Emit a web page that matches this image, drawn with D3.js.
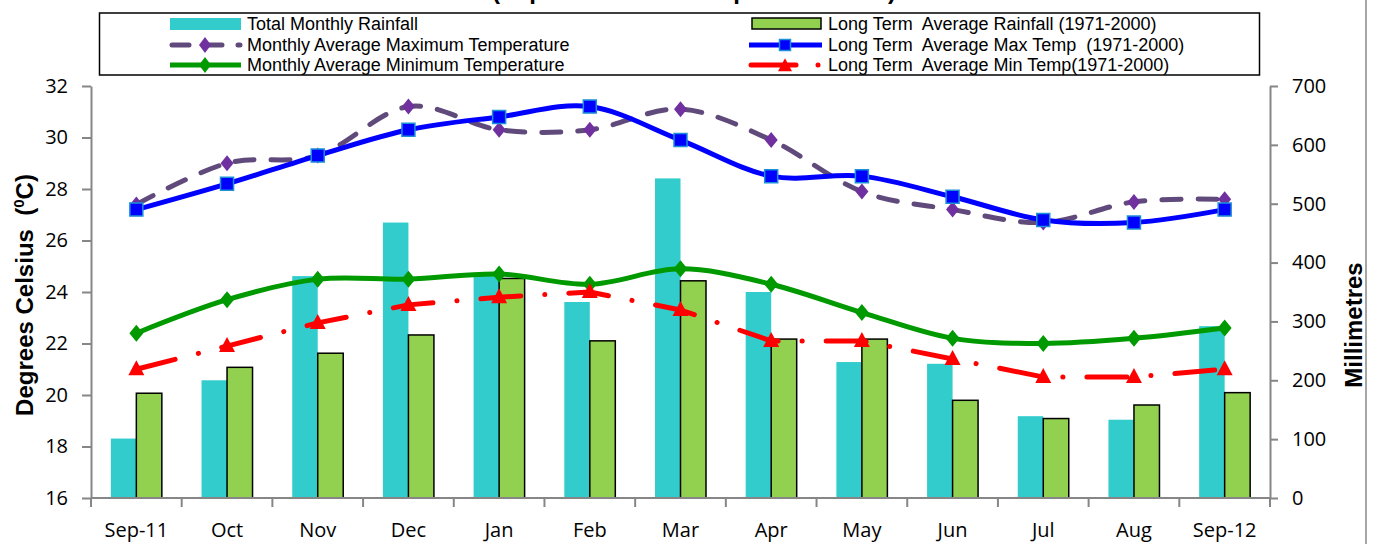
<!DOCTYPE html>
<html>
<head>
<meta charset="utf-8">
<script src="https://cdn.jsdelivr.net/npm/d3@7"></script>
<style>
  body { margin: 0; background: #fff; }
  svg { display: block; }
  text { white-space: pre; }
</style>
</head>
<body>
<svg id="chart" width="1374" height="544"></svg>
<script>
// Monthly climate record, September 2011 to September 2012
const months = ["Sep-11", "Oct", "Nov", "Dec", "Jan", "Feb", "Mar", "Apr", "May", "Jun", "Jul", "Aug", "Sep-12"];
const totalRainfall = [101, 200, 377, 468, 380, 333, 543, 350, 231, 228, 139, 133, 292];
const ltRainfall = [178, 222, 246, 277, 373, 267, 369, 270, 270, 166, 135, 158, 179];
const maxTemp = [27.4, 29.0, 29.3, 31.2, 30.3, 30.3, 31.1, 29.9, 27.9, 27.2, 26.7, 27.5, 27.6];
const ltMaxTemp = [27.2, 28.2, 29.3, 30.3, 30.8, 31.2, 29.9, 28.5, 28.5, 27.7, 26.8, 26.7, 27.2];
const minTemp = [22.4, 23.7, 24.5, 24.5, 24.7, 24.3, 24.9, 24.3, 23.2, 22.2, 22.0, 22.2, 22.6];
const ltMinTemp = [21.0, 21.9, 22.8, 23.5, 23.8, 24.0, 23.3, 22.1, 22.1, 21.4, 20.7, 20.7, 21.0];
const tempTicks = [16, 18, 20, 22, 24, 26, 28, 30, 32];
const rainTicks = [0, 100, 200, 300, 400, 500, 600, 700];

const svg = d3.select("#chart");
const plot = { left: 91, right: 1270, top: 86, bottom: 498 };
const axisColor = "#868686";
const tickFont = "'Open Sans', sans-serif";

const x = d3.scaleBand().domain(months).range([plot.left, plot.right]);
const cx = m => x(m) + x.bandwidth() / 2;
const xBar = d3.scaleBand().domain(["total", "lt"]);
const yT = d3.scaleLinear().domain([16, 32]).range([plot.bottom, plot.top]);
const yR = d3.scaleLinear().domain([0, 700]).range([plot.bottom, plot.top]);

// Chart area border on the right
svg.append("line").attr("x1", 1366).attr("x2", 1366).attr("y1", 0).attr("y2", 544)
  .attr("stroke", "#a6a6a6").attr("stroke-width", 2);

// Title (last line)
svg.append("text").attr("x", 694).attr("y", -1).attr("text-anchor", "middle")
  .attr("font-family", "'Liberation Sans', Arial, sans-serif").attr("font-weight", "bold")
  .attr("font-size", 24).text("(September 2011 - September 2012)");

// Bars
const bars = svg.append("g");
months.forEach((m, i) => {
  xBar.range([cx(m) - 25.5, cx(m) + 25.5]);
  bars.append("rect")
    .attr("x", xBar("total")).attr("width", xBar.bandwidth())
    .attr("y", yR(totalRainfall[i])).attr("height", yR(0) - yR(totalRainfall[i]))
    .attr("fill", "#33CCCC");
  bars.append("rect")
    .attr("x", xBar("lt")).attr("width", xBar.bandwidth())
    .attr("y", yR(ltRainfall[i])).attr("height", yR(0) - yR(ltRainfall[i]))
    .attr("fill", "#92D050").attr("stroke", "#000").attr("stroke-width", 1.5);
});

// Axes
function styleAxis(g) {
  g.selectAll(".domain").attr("stroke", axisColor).attr("stroke-width", 2);
  g.selectAll(".tick line").attr("stroke", axisColor).attr("stroke-width", 2);
  g.selectAll("text").attr("font-family", tickFont).attr("font-size", 20).attr("fill", "#000");
}
svg.append("g").attr("transform", `translate(${plot.left},0)`)
  .call(d3.axisLeft(yT).tickValues(tempTicks).tickSize(9).tickSizeOuter(0).tickPadding(14))
  .call(styleAxis);
svg.append("g").attr("transform", `translate(${plot.right},0)`)
  .call(d3.axisRight(yR).tickValues(rainTicks).tickSize(8).tickSizeOuter(0).tickPadding(14))
  .call(styleAxis);
const xAxis = svg.append("g").attr("transform", `translate(0,${plot.bottom})`)
  .call(d3.axisBottom(x).tickSize(0).tickPadding(25))
  .call(styleAxis);
xAxis.select(".domain").remove();
svg.append("line").attr("x1", plot.left).attr("x2", plot.right)
  .attr("y1", plot.bottom).attr("y2", plot.bottom)
  .attr("stroke", axisColor).attr("stroke-width", 2);
const bounds = months.map(m => x(m)).concat([plot.right]);
svg.append("g").selectAll("line").data(bounds).join("line")
  .attr("x1", d => d).attr("x2", d => d)
  .attr("y1", plot.bottom).attr("y2", plot.bottom + 9)
  .attr("stroke", axisColor).attr("stroke-width", 2);

// Axis titles
svg.append("text").attr("transform", "translate(33,295) rotate(-90)")
  .attr("text-anchor", "middle").attr("font-family", "'Liberation Sans', Arial, sans-serif")
  .attr("font-weight", "bold").attr("font-size", 24)
  .call(t => {
    t.append("tspan").text("Degrees Celsius  (");
    t.append("tspan").attr("font-size", 15).attr("dy", -9).text("0");
    t.append("tspan").attr("dy", 9).text("C)");
  });
svg.append("text").attr("transform", "translate(1362,325) rotate(-90)")
  .attr("text-anchor", "middle").attr("font-family", "'Liberation Sans', Arial, sans-serif")
  .attr("font-weight", "bold").attr("font-size", 24).text("Millimetres");

// Marker shapes
const diamond = (w, h) => `M0,${-h}L${w},0L0,${h}L${-w},0Z`;
const triangle = (w, h) => `M0,${-h * 0.6}L${w},${h * 0.4}L${-w},${h * 0.4}Z`;
const square = s => `M${-s},${-s}H${s}V${s}H${-s}Z`;

const smooth = d3.line().x(d => d[0]).y(d => d[1]).curve(d3.curveCardinal.tension(0));
const straight = d3.line().x(d => d[0]).y(d => d[1]);

function series(values, gen, stroke, dash, shape, fill, mStroke, mWidth) {
  const pts = values.map((v, i) => [cx(months[i]), yT(v)]);
  const g = svg.append("g");
  g.append("path").attr("d", gen(pts)).attr("fill", "none")
    .attr("stroke", stroke).attr("stroke-width", 5)
    .attr("stroke-linecap", dash ? "round" : "butt").attr("stroke-linejoin", "round")
    .attr("stroke-dasharray", dash);
  g.selectAll("path.m").data(pts).join("path").attr("class", "m")
    .attr("transform", d => `translate(${d[0]},${d[1]})`)
    .attr("d", shape).attr("fill", fill)
    .attr("stroke", mStroke || "none").attr("stroke-width", mWidth || 0);
}

series(maxTemp, smooth, "#604A7B", "19 17", diamond(6.5, 8), "#7030A0");
series(ltMaxTemp, smooth, "#0000FF", null, square(6.5), "#0000FF", "#1E90D8", 1.5);
series(minTemp, smooth, "#009900", null, diamond(7, 8.5), "#009900");
series(ltMinTemp, straight, "#FF0000", "40 24 0.1 24", triangle(8, 15), "#FF0000");

// Legend
const lg = svg.append("g").attr("font-family", "'Liberation Sans', Arial, sans-serif").attr("font-size", 18);
lg.append("rect").attr("x", 99.5).attr("y", 13).attr("width", 1160).attr("height", 62)
  .attr("fill", "#fff").attr("stroke", "#000").attr("stroke-width", 1.5);
const rows = [24, 45, 65];
const lt = (xp, y, s) => lg.append("text").attr("x", xp).attr("y", y + 6).text(s);

lg.append("rect").attr("x", 170).attr("y", 18).attr("width", 71).attr("height", 12).attr("fill", "#33CCCC");
lt(247, rows[0], "Total Monthly Rainfall");
lg.append("path").attr("d", `M172,${rows[1]}H240`).attr("stroke", "#604A7B").attr("stroke-width", 5)
  .attr("stroke-linecap", "round").attr("stroke-dasharray", "17 16");
lg.append("path").attr("transform", `translate(205,${rows[1]})`).attr("d", diamond(6, 8)).attr("fill", "#7030A0");
lt(247, rows[1], "Monthly Average Maximum Temperature");
lg.append("path").attr("d", `M170,${rows[2]}H241`).attr("stroke", "#009900").attr("stroke-width", 5);
lg.append("path").attr("transform", `translate(205,${rows[2]})`).attr("d", diamond(6, 8)).attr("fill", "#009900");
lt(247, rows[2], "Monthly Average Minimum Temperature");

lg.append("rect").attr("x", 752).attr("y", 18).attr("width", 69).attr("height", 11)
  .attr("fill", "#92D050").attr("stroke", "#000").attr("stroke-width", 1.5);
lt(828, rows[0], "Long Term  Average Rainfall (1971-2000)");
lg.append("path").attr("d", `M749,${rows[1]}H822`).attr("stroke", "#0000FF").attr("stroke-width", 5);
lg.append("path").attr("transform", `translate(785,${rows[1]})`).attr("d", square(5.5))
  .attr("fill", "#0000FF").attr("stroke", "#1E90D8").attr("stroke-width", 1.5);
lt(828, rows[1], "Long Term  Average Max Temp  (1971-2000)");
lg.append("path").attr("d", `M751,${rows[2]}H796`).attr("stroke", "#FF0000").attr("stroke-width", 5)
  .attr("stroke-linecap", "round");
lg.append("path").attr("transform", `translate(785,${rows[2] + 1})`).attr("d", triangle(7, 13)).attr("fill", "#FF0000");
lg.append("circle").attr("cx", 818).attr("cy", rows[2]).attr("r", 2.5).attr("fill", "#FF0000");
lt(828, rows[2], "Long Term  Average Min Temp(1971-2000)");
</script>
</body>
</html>
